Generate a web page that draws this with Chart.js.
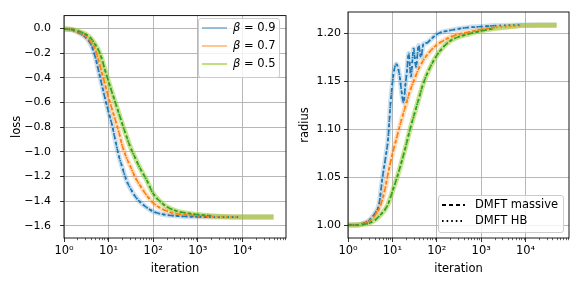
<!DOCTYPE html>
<html>
<head>
<meta charset="utf-8">
<script src="https://cdn.jsdelivr.net/npm/chart.js@4.4.1/dist/chart.umd.min.js"></script>
<style>
html, body { margin: 0; padding: 0; background: #fff; }
#wrap { position: relative; width: 581px; height: 291px; }
#wrap canvas { position: absolute; top: 0; }
</style>
</head>
<body>
<div id="wrap">
  <canvas id="lossChart" width="290" height="291" style="left:0"></canvas>
  <canvas id="radiusChart" width="291" height="291" style="left:290px"></canvas>
</div>
<script>
// ---- data ----
const betas = ['0.9', '0.7', '0.5'];
const iters = [1, 1.5, 2, 3, 4, 5, 6, 7, 8, 10, 12, 14, 17, 20, 25, 30, 40, 50, 70, 100,
               150, 200, 300, 500, 1000, 2000, 5000, 8000, 20000, 50000];

const lossB09 = [-0.005, -0.012, -0.03, -0.07, -0.13, -0.23, -0.35, -0.454, -0.543, -0.68,
                 -0.785, -0.90, -1.035, -1.12, -1.23, -1.29, -1.365, -1.405, -1.45, -1.485,
                 -1.505, -1.513, -1.52, -1.525, -1.528, -1.53, -1.53, -1.53, -1.53, -1.53];
const lossB07 = [-0.004, -0.01, -0.025, -0.06, -0.11, -0.17, -0.264, -0.353, -0.43, -0.56,
                 -0.658, -0.737, -0.843, -0.944, -1.046, -1.11, -1.21, -1.27, -1.35, -1.415,
                 -1.46, -1.48, -1.50, -1.51, -1.52, -1.525, -1.528, -1.53, -1.53, -1.53];
const lossB05 = [-0.004, -0.008, -0.02, -0.045, -0.08, -0.13, -0.18, -0.244, -0.316, -0.433,
                 -0.522, -0.596, -0.689, -0.768, -0.872, -0.953, -1.055, -1.13, -1.225, -1.34,
                 -1.41, -1.445, -1.475, -1.495, -1.51, -1.52, -1.527, -1.529, -1.53, -1.53];

// beta = 0.9 radius oscillates, so it gets its own iteration grid
const itersRadB09 = [1, 1.5, 2, 3, 4, 5, 6, 7, 8, 9, 10, 11, 12.2, 14.5, 16, 17.9, 19.5, 21.3,
                     23.2, 26.2, 30, 34, 39, 44, 50, 60, 71, 100, 200, 500, 1000, 2000, 5000,
                     8000, 20000, 50000];
const radiusB09 = [1.000, 1.000, 1.001, 1.005, 1.012, 1.022, 1.05, 1.07, 1.09, 1.125, 1.148,
                   1.162, 1.168, 1.156, 1.14, 1.128, 1.145, 1.161, 1.179, 1.155, 1.184, 1.165,
                   1.1875, 1.175, 1.189, 1.190, 1.193, 1.199, 1.203, 1.206, 1.207, 1.208,
                   1.2085, 1.2087, 1.2087, 1.2087];
const radiusB07 = [1.000, 1.000, 1.001, 1.004, 1.010, 1.017, 1.027, 1.040, 1.054, 1.074,
                   1.088, 1.100, 1.114, 1.125, 1.140, 1.150, 1.164, 1.172, 1.181, 1.188,
                   1.193, 1.196, 1.199, 1.201, 1.204, 1.206, 1.2075, 1.208, 1.2085, 1.2085];
const radiusB05 = [1.000, 1.000, 1.0005, 1.002, 1.005, 1.009, 1.013, 1.017, 1.022, 1.035,
                   1.046, 1.056, 1.070, 1.082, 1.100, 1.113, 1.133, 1.148, 1.164, 1.177,
                   1.187, 1.192, 1.196, 1.199, 1.2025, 1.205, 1.207, 1.208, 1.2085, 1.2085];

const xTicks = [1, 10, 100, 1000, 10000];
const lossTicks = [-1.6, -1.4, -1.2, -1.0, -0.8, -0.6, -0.4, -0.2, 0.0];
const radiusTicks = [1.00, 1.05, 1.10, 1.15, 1.20];

// last iteration plotted for the DMFT curves
const massiveEnd = [2000, 2000, 2000];
const hbEnd = [8000, 8000, 2000];

const bandColors = ['rgba(31,119,180,0.22)', 'rgba(255,127,14,0.25)', 'rgba(154,205,50,0.55)'];
const legendColors = ['rgba(31,119,180,0.5)', 'rgba(255,127,14,0.5)', 'rgba(154,205,50,0.7)'];
const lineColors = ['#1f77b4', '#ff7f0e', '#2ca02c'];

const FONT = 'DejaVu Sans';
const sup = ['\u2070', '\u00b9', '\u00b2', '\u00b3', '\u2074'];

function pts(xs, ys, end) {
    let out = xs.map((x, i) => ({x: x, y: ys[i]}));
    if (end) out = out.filter(p => p.x <= end);
    return out;
}

function makeSets(xsList, ysList) {
    let sets = [];
    for (let i = 0; i < 3; i++) {
        sets.push({
            label: 'β = ' + betas[i], data: pts(xsList[i], ysList[i]),
            borderColor: bandColors[i], borderWidth: 5, order: 30 - i,
            pointRadius: 0, cubicInterpolationMode: 'monotone', borderCapStyle: 'butt'
        });
        sets.push({
            label: 'DMFT massive', data: pts(xsList[i], ysList[i], massiveEnd[i]),
            borderColor: lineColors[i], borderWidth: 1.6, borderDash: [4, 3], order: 12 - i,
            pointRadius: 0, cubicInterpolationMode: 'monotone'
        });
        sets.push({
            label: 'DMFT HB', data: pts(xsList[i], ysList[i], hbEnd[i]),
            borderColor: lineColors[i], borderWidth: 1.8, borderDash: [1.6, 3], order: 6 - i,
            pointRadius: 0, cubicInterpolationMode: 'monotone'
        });
    }
    return sets;
}

// ---- small plugins: box frame + minor ticks, matplotlib-like legend ----
const framePlugin = {
    id: 'frame',
    afterDatasetsDraw(chart) {
        const {ctx, chartArea: a} = chart;
        ctx.save();
        ctx.strokeStyle = '#000';
        ctx.lineWidth = 0.9;
        ctx.strokeRect(a.left, a.top, a.right - a.left, a.bottom - a.top);
        const xs = chart.scales.x;
        ctx.lineWidth = 0.6;
        for (let d = 0; d < 5; d++) {
            for (let k = 2; k < 10; k++) {
                const v = k * Math.pow(10, d);
                if (v > xs.max) continue;
                const px = Math.round(xs.getPixelForValue(v)) + 0.5;
                ctx.beginPath();
                ctx.moveTo(px, a.bottom);
                ctx.lineTo(px, a.bottom + 2.2);
                ctx.stroke();
            }
        }
        ctx.restore();
    }
};

const boxLegend = {
    id: 'boxLegend',
    afterDraw(chart, args, o) {
        if (!o.items) return;
        const ctx = chart.ctx;
        ctx.save();
        ctx.beginPath();
        ctx.roundRect(o.x + 0.5, o.y + 0.5, o.w, o.h, 2.5);
        ctx.fillStyle = 'rgba(255,255,255,0.8)';
        ctx.fill();
        ctx.strokeStyle = '#cccccc';
        ctx.lineWidth = 1;
        ctx.stroke();
        o.items.forEach((it, k) => {
            const y = o.y + o.first + k * o.step;
            ctx.beginPath();
            ctx.setLineDash(it.dash || []);
            ctx.strokeStyle = it.color;
            ctx.lineWidth = it.width;
            ctx.moveTo(o.x + o.l0, y);
            ctx.lineTo(o.x + o.l1, y);
            ctx.stroke();
            ctx.setLineDash([]);
            ctx.fillStyle = '#000';
            ctx.textBaseline = 'middle';
            let tx = o.x + o.tx;
            if (it.beta) {
                ctx.font = 'italic 11.5px "' + FONT + '"';
                ctx.fillText('β', tx, y);
                tx += ctx.measureText('β').width;
                ctx.font = '11.5px "' + FONT + '"';
                ctx.fillText(' = ' + it.beta, tx, y);
            } else {
                ctx.font = '11.5px "' + FONT + '"';
                ctx.fillText(it.text, tx, y);
            }
        });
        ctx.restore();
    }
};

function xScale() {
    return {
        type: 'logarithmic', min: 1, max: 95000,
        afterBuildTicks: s => { s.ticks = xTicks.map(v => ({value: v})); },
        afterFit: s => { s.height = 53; },
        ticks: {
            autoSkip: false, maxRotation: 0, padding: 2, color: '#000',
            font: {family: FONT, size: 11.5},
            callback: v => '10' + sup[Math.round(Math.log10(v))]
        },
        grid: {color: '#b0b0b0', lineWidth: 0.9, tickLength: 4, tickColor: '#000', tickWidth: 0.8},
        border: {display: false},
        title: {display: true, text: 'iteration', color: '#000',
                font: {family: FONT, size: 11.5}, padding: {top: 0, bottom: 15}}
    };
}

function yScale(min, max, tickVals, digits, width, labelPad, title, titlePad) {
    return {
        type: 'linear', min: min, max: max,
        afterBuildTicks: s => { s.ticks = tickVals.map(v => ({value: v})); },
        afterFit: s => { s.width = width; },
        ticks: {
            padding: labelPad, color: '#000', font: {family: FONT, size: 11},
            callback: v => v.toFixed(digits).replace('-', '\u2212')
        },
        grid: {color: '#b0b0b0', lineWidth: 0.9, tickLength: 4, tickColor: '#000', tickWidth: 0.8},
        border: {display: false},
        title: {display: true, text: title, color: '#000',
                font: {family: FONT, size: 11.5}, padding: {top: titlePad, bottom: 0}}
    };
}

function baseOptions(padRight, yOpts, legendOpts) {
    return {
        responsive: false, animation: false,
        layout: {padding: {left: 0, right: padRight, top: 12, bottom: 0}},
        scales: {x: xScale(), y: yOpts},
        plugins: {legend: {display: false}, tooltip: {enabled: false}, boxLegend: legendOpts}
    };
}

const lossChart = new Chart(document.getElementById('lossChart'), {
    type: 'line',
    data: {datasets: makeSets([iters, iters, iters], [lossB09, lossB07, lossB05])},
    options: baseOptions(4, yScale(-1.7, 0.104, lossTicks, 1, 64, 9, 'loss', 10), {
        x: 198, y: 18, w: 81, h: 59, first: 10, step: 18, l0: 4, l1: 29, tx: 35,
        items: betas.map((b, i) => ({beta: b, color: legendColors[i], width: 1.8}))
    }),
    plugins: [framePlugin, boxLegend]
});

const radiusChart = new Chart(document.getElementById('radiusChart'), {
    type: 'line',
    data: {datasets: makeSets([itersRadB09, iters, iters], [radiusB09, radiusB07, radiusB05])},
    options: baseOptions(12, yScale(0.9865, 1.2222, radiusTicks, 2, 58, 3, 'radius', 8), {
        x: 148, y: 195, w: 125, h: 37, first: 10, step: 16, l0: 4, l1: 27, tx: 37,
        items: [
            {text: 'DMFT massive', color: '#000', width: 1.8, dash: [4, 3]},
            {text: 'DMFT HB', color: '#000', width: 1.8, dash: [1.6, 3]}
        ]
    }),
    plugins: [framePlugin, boxLegend]
});
</script>
</body>
</html>
